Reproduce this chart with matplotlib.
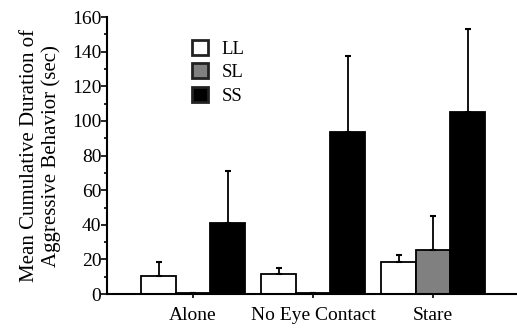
import numpy as np
import matplotlib.pyplot as plt
from matplotlib.ticker import MultipleLocator

plt.rcParams['font.family'] = ['Liberation Serif', 'DejaVu Serif']

groups = ['Alone', 'No Eye Contact', 'Stare']
series = ['LL', 'SL', 'SS']
ll = [10.4, 11.5, 18.5]
sl = [0.5, 0.5, 25.4]
ss = [41, 93.6, 105]
ll_err = [8.1, 3.5, 4.0]
sl_err = [0, 0, 19.6]
ss_err = [30, 44, 48]
colors = ['white', '#808080', 'black']

fig = plt.figure(figsize=(5.17, 3.29), dpi=100)
ax = fig.add_axes([0.207, 0.106, 0.791, 0.842])

x = np.arange(len(groups))
w = 0.2875
vals = [ll, sl, ss]
errs = [ll_err, sl_err, ss_err]
for i in range(3):
    ax.bar(x + (i - 1) * w, vals[i], w, color=colors[i], edgecolor='black',
           linewidth=1.3, label=series[i], zorder=2,
           yerr=[[0] * 3, errs[i]],
           error_kw=dict(ecolor='black', elinewidth=1.3, capsize=2.5, capthick=1.5))

ax.set_xlim(-0.717, 2.69)
ax.set_ylim(0, 160)
ax.yaxis.set_major_locator(MultipleLocator(20))
ax.yaxis.set_minor_locator(MultipleLocator(10))
ax.set_xticks(x)
ax.set_xticklabels(groups, fontsize=14)
ax.tick_params(axis='x', length=3, width=1.2, pad=6)
ax.tick_params(axis='y', which='major', length=4, width=1.2, labelsize=14, pad=0)
ax.tick_params(axis='y', which='minor', length=2.5, width=1.2)
for s in ['top', 'right']:
    ax.spines[s].set_visible(False)
for s in ['left', 'bottom']:
    ax.spines[s].set_linewidth(1.5)

ax.set_ylabel('Mean Cumulative Duration of\nAggressive Behavior (sec)', fontsize=15,
              linespacing=1.15, labelpad=8)

leg = ax.legend(loc='upper left', bbox_to_anchor=(0.19, 0.945), frameon=False,
                fontsize=13.5, handlelength=0.85, handleheight=0.85, handletextpad=0.7,
                labelspacing=0.3, borderaxespad=0)
for h in leg.legend_handles:
    h.set_linewidth(2)
    h.set_edgecolor('#222222')

fig.savefig('out.png', dpi=100)
